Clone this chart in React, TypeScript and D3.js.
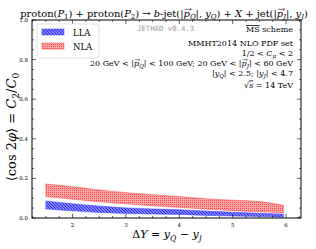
import React, { useEffect, useRef } from 'react';
import * as d3 from 'd3';

// rapidity interval points
const deltaY = [1.5, 2, 2.5, 3, 3.5, 4, 4.5, 5, 5.5, 5.95];

// LLA band (blue)
const llaUpper = [0.086, 0.072, 0.06, 0.051, 0.046, 0.042, 0.035, 0.029, 0.024, 0.02];
const llaLower = [0.046, 0.036, 0.028, 0.023, 0.02, 0.018, 0.013, 0.01, 0.007, 0.004];

// NLA band (red)
const nlaUpper = [0.172, 0.158, 0.142, 0.128, 0.118, 0.108, 0.097, 0.09, 0.083, 0.064];
const nlaLower = [0.108, 0.095, 0.082, 0.072, 0.062, 0.054, 0.045, 0.037, 0.032, 0.027];

const xTicks = [2, 3, 4, 5, 6];
const yTicks = [0, 0.2, 0.4, 0.6, 0.8, 1.0];

const serif = "'DejaVu Serif', serif";

type Part = { t: string; i?: boolean; sub?: boolean; vec?: boolean; over?: boolean; sans?: boolean };

// writes math-ish text as tspans: italic, subscript, vector arrow drawn as a path
function rich(sel: any, parts: Part[], size: number) {
  let cur = 0;
  const vecs: any[] = [];
  parts.forEach(p => {
    const target = p.sub ? size * 0.25 : 0;
    const s = sel.append('tspan').attr('dy', target - cur).text(p.t);
    cur = target;
    if (p.i) s.attr('font-style', 'italic');
    if (p.sub) s.attr('font-size', size * 0.7);
    if (p.over) s.attr('text-decoration', 'overline');
    if (p.sans) s.attr('font-family', "'DejaVu Sans', sans-serif");
    if (p.vec) vecs.push(s);
  });
  const parent = d3.select(sel.node().parentNode);
  vecs.forEach(s => {
    const b = s.node().getBBox();
    const base = b.y + b.height * 0.79;
    const y = base - size * 0.74;
    const x0 = b.x + size * 0.12;
    const x1 = b.x + b.width + size * 0.08;
    const a = size * 0.14;
    parent.append('path')
      .attr('d', `M${x0},${y} L${x1},${y} M${x1 - a},${y - a} L${x1},${y} L${x1 - a},${y + a}`)
      .attr('fill', 'none').attr('stroke', '#000').attr('stroke-width', size * 0.055);
  });
  return sel;
}

// font size that makes the parts span a given width
function fitSize(parent: any, parts: Part[], size: number, target: number) {
  const probe = parent.append('text').attr('font-family', serif).attr('font-size', size);
  parts.forEach(p => probe.append('tspan')
    .attr('font-size', p.sub ? size * 0.7 : size)
    .attr('font-style', p.i ? 'italic' : null)
    .attr('font-family', p.sans ? "'DejaVu Sans', sans-serif" : null)
    .text(p.t));
  const len = (probe.node() as SVGTextElement).getComputedTextLength();
  probe.remove();
  return len > 0 ? size * target / len : size;
}

const titleParts: Part[] = [
  { t: 'proton(' }, { t: 'P', i: true }, { t: '1', sub: true },
  { t: ') + proton(' }, { t: 'P', i: true }, { t: '2', sub: true },
  { t: ') → ' }, { t: 'b', i: true }, { t: '-jet(|' },
  { t: 'p', i: true, vec: true }, { t: 'Q', i: true, sub: true }, { t: '|, ' },
  { t: 'y', i: true }, { t: 'Q', i: true, sub: true }, { t: ') + ' },
  { t: 'X', i: true }, { t: ' + jet(|' },
  { t: 'p', i: true, vec: true }, { t: 'J', i: true, sub: true }, { t: '|, ' },
  { t: 'y', i: true }, { t: 'J', i: true, sub: true }, { t: ')' },
];

const yLabelParts: Part[] = [
  { t: '⟨', sans: true }, { t: 'cos 2' }, { t: 'φ', i: true }, { t: '⟩', sans: true },
  { t: ' = ' }, { t: 'C', i: true }, { t: '2', sub: true }, { t: '/' },
  { t: 'C', i: true }, { t: '0', sub: true },
];

export default function App() {
  const ref = useRef<SVGSVGElement>(null);

  useEffect(() => {
    const width = 316;
    const height = 249;
    const margin = { left: 32, top: 20, right: 15, bottom: 31 };
    const w = width - margin.left - margin.right;
    const h = height - margin.top - margin.bottom;

    const root = d3.select(ref.current);
    root.selectAll('*').remove();

    const defs = root.append('defs');

    // blue hatching
    const pb = defs.append('pattern')
      .attr('id', 'hatchBlue')
      .attr('patternUnits', 'userSpaceOnUse')
      .attr('width', 3).attr('height', 3);
    pb.append('rect').attr('width', 3).attr('height', 3).attr('fill', '#c8c8ff');
    pb.append('path')
      .attr('d', 'M-1,-1 L4,4 M-1,2 L1,4 M2,-1 L4,1')
      .attr('stroke', '#2a2aff').attr('stroke-width', 1.3);

    // red dots
    const pr = defs.append('pattern')
      .attr('id', 'dotsRed')
      .attr('patternUnits', 'userSpaceOnUse')
      .attr('width', 2).attr('height', 2);
    pr.append('rect').attr('width', 2).attr('height', 2).attr('fill', '#ffa5a5');
    pr.append('rect').attr('width', 1).attr('height', 1).attr('fill', '#ff4a4a');

    const svg = root.append('g')
      .attr('transform', `translate(${margin.left}, ${margin.top})`);

    /* Scale */
    const xScale = d3.scaleLinear().domain([1.24, 6.28]).range([0, w]);
    const yScale = d3.scaleLinear().domain([0, 1]).range([h, 0]);

    /* Bands */
    const area = d3.area<number>()
      .x((d, i) => xScale(deltaY[i]))
      .y0((d, i) => yScale(d))
      .curve(d3.curveMonotoneX);

    const bands = [
      { up: nlaUpper, lo: nlaLower, fill: 'url(#dotsRed)', stroke: 'rgba(255,60,60,0.6)' },
      { up: llaUpper, lo: llaLower, fill: 'url(#hatchBlue)', stroke: 'rgba(60,60,255,0.6)' },
    ];
    bands.forEach(b => {
      svg.append('path')
        .attr('d', area.y1((d, i) => yScale(b.up[i]))(b.lo))
        .attr('fill', b.fill)
        .attr('stroke', b.stroke)
        .attr('stroke-width', 0.8);
    });

    /* Frame */
    svg.append('rect')
      .attr('width', w).attr('height', h)
      .attr('fill', 'none').attr('stroke', '#000').attr('stroke-width', 1);

    /* Ticks (inward, all four sides) */
    const xMinor = d3.range(1.25, 6.3, 0.25);
    const yMinor = d3.range(0, 1.001, 0.05);
    const tg = svg.append('g').attr('stroke', '#000').attr('stroke-width', 0.6);
    xMinor.forEach(v => {
      const major = Math.abs(v - Math.round(v)) < 1e-6;
      const len = major ? 4 : 2;
      const x = xScale(v);
      tg.append('line').attr('x1', x).attr('x2', x).attr('y1', h).attr('y2', h - len);
      tg.append('line').attr('x1', x).attr('x2', x).attr('y1', 0).attr('y2', len);
    });
    yMinor.forEach(v => {
      const major = Math.abs(v * 5 - Math.round(v * 5)) < 1e-6;
      const len = major ? 4 : 2;
      const y = yScale(v);
      tg.append('line').attr('x1', 0).attr('x2', len).attr('y1', y).attr('y2', y);
      tg.append('line').attr('x1', w).attr('x2', w - len).attr('y1', y).attr('y2', y);
    });

    /* Tick labels */
    svg.append('g').selectAll('text').data(xTicks).enter()
      .append('text')
      .attr('x', d => xScale(d)).attr('y', h + 9)
      .attr('text-anchor', 'middle')
      .attr('font-family', serif).attr('font-size', 5.5)
      .text(d => d);
    svg.append('g').selectAll('text').data(yTicks).enter()
      .append('text')
      .attr('x', -4).attr('y', d => yScale(d) + 2)
      .attr('text-anchor', 'end')
      .attr('font-family', serif).attr('font-size', 5.5)
      .text(d => d.toFixed(1));

    /* Legend */
    const lg = svg.append('g').attr('transform', 'translate(5, 4)');
    lg.append('rect')
      .attr('width', 62).attr('height', 34).attr('rx', 2)
      .attr('fill', '#fff').attr('stroke', '#d8d8d8').attr('stroke-width', 0.8);
    const items = [
      { label: 'LLA', fill: 'url(#hatchBlue)', stroke: 'rgba(60,60,255,0.6)' },
      { label: 'NLA', fill: 'url(#dotsRed)', stroke: 'rgba(255,60,60,0.6)' },
    ];
    items.forEach((it, i) => {
      lg.append('rect')
        .attr('x', 5).attr('y', 5 + i * 14)
        .attr('width', 22).attr('height', 6)
        .attr('fill', it.fill).attr('stroke', it.stroke).attr('stroke-width', 0.8);
      lg.append('text')
        .attr('x', 36).attr('y', 11.5 + i * 14)
        .attr('font-family', serif).attr('font-size', 8.5)
        .text(it.label);
    });

    /* Annotations */
    svg.append('text')
      .attr('x', 137 - margin.left).attr('y', 11)
      .attr('font-family', "'DejaVu Sans Mono', monospace").attr('font-size', 7.3)
      .attr('fill', '#999')
      .text('JETHAD v0.4.3');

    const ann = svg.append('g')
      .attr('font-family', serif).attr('font-size', 8)
      .attr('text-anchor', 'end');
    const ax = 293 - margin.left;
    const fs = 8;

    rich(ann.append('text').attr('x', ax).attr('y', 12),
      [{ t: 'MS', over: true }, { t: ' scheme' }], fs);
    rich(ann.append('text').attr('x', ax).attr('y', 26),
      [{ t: 'MMHT2014 NLO PDF set' }], fs);
    rich(ann.append('text').attr('x', ax).attr('y', 36),
      [{ t: '1/2 < ' }, { t: 'C', i: true }, { t: 'μ', i: true, sub: true }, { t: ' < 2' }], fs);
    rich(ann.append('text').attr('x', ax).attr('y', 45.5),
      [{ t: '20 GeV < |' }, { t: 'p', i: true, vec: true }, { t: 'Q', i: true, sub: true },
       { t: '| < 100 GeV;  20 GeV < |' }, { t: 'p', i: true, vec: true }, { t: 'J', i: true, sub: true },
       { t: '| < 60 GeV' }], fs);
    rich(ann.append('text').attr('x', ax).attr('y', 56),
      [{ t: '|' }, { t: 'y', i: true }, { t: 'Q', i: true, sub: true }, { t: '| < 2.5;   |' },
       { t: 'y', i: true }, { t: 'J', i: true, sub: true }, { t: '| < 4.7' }], fs);
    rich(ann.append('text').attr('x', ax).attr('y', 67.5),
      [{ t: '√' }, { t: 's', i: true, over: true }, { t: ' = 14 TeV' }], fs);

    /* Title, sized to span the reference width */
    const tg0 = root.append('g');
    const ts = Math.min(10.5, fitSize(tg0, titleParts, 9, 288));
    rich(tg0.append('text')
      .attr('x', 164).attr('y', 17)
      .attr('text-anchor', 'middle')
      .attr('font-family', serif).attr('font-size', ts),
      titleParts, ts);

    /* Axis labels */
    rich(root.append('text')
      .attr('x', 167).attr('y', 238)
      .attr('text-anchor', 'middle')
      .attr('font-family', serif).attr('font-size', 11),
      [{ t: 'Δ' }, { t: 'Y', i: true }, { t: ' = ' }, { t: 'y', i: true },
       { t: 'Q', i: true, sub: true }, { t: ' − ' }, { t: 'y', i: true },
       { t: 'J', i: true, sub: true }], 11);

    const ylg = root.append('g').attr('transform', 'translate(16, 127) rotate(-90)');
    const ys = Math.min(13, fitSize(ylg, yLabelParts, 12, 118));
    rich(ylg.append('text')
      .attr('x', 0).attr('y', 0)
      .attr('text-anchor', 'middle')
      .attr('font-family', serif).attr('font-size', ys),
      yLabelParts, ys);
  }, []);

  return (
    <svg ref={ref} width={316} height={249}
      style={{ position: 'absolute', left: 0, top: 0, background: '#fff' }} />
  );
}
